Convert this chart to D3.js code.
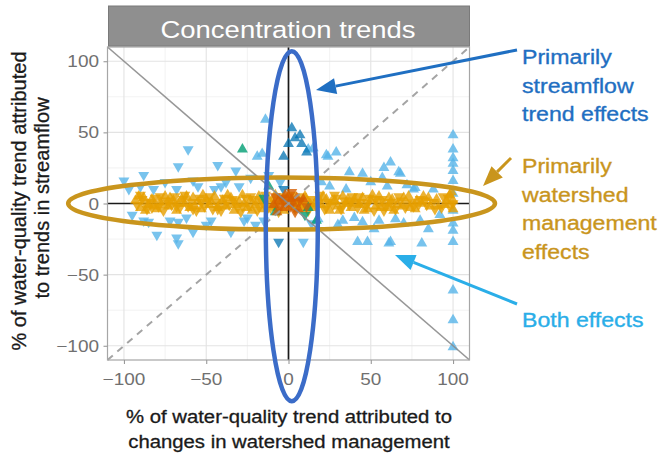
<!DOCTYPE html>
<html><head><meta charset="utf-8">
<script src="https://cdn.jsdelivr.net/npm/d3@7"></script>
<style>body{margin:0;background:#fff} svg{display:block}</style>
</head><body>
<script>
// ---- data (percent of concentration trend attributed to management vs streamflow) ----
const stripTitle = "Concentration trends";
const tickValues = [-100, -50, 0, 50, 100];
const minorTicks = [-75, -25, 25, 75];
const xTitle = ["% of water-quality trend attributed to", "changes in watershed management"];
const yTitle = ["% of water-quality trend attributed", "to trends in streamflow"];

// Both effects (sky blue)
const bothUp = [[100,48],[100,38],[100,32],[100,28],[100,23],[100,16],[100,7],[100,-5],[100,-14],[100,-19],[100,-27],[100,-61],[100,-82],[100,-101],
  [62,29],[67,22],[62,-27],[81,-28],[77,11],[42,-27],[48,-27],[61,-28],[15,39],[23,34],[29,36],[37,22],[45,21],[68,21],[76,10],
  [-16,35],[-14,59],[12,38],[24,33],[30,-15],[55,-12],[85,-18],[40,-10],[20,15],[50,15],[88,10],[35,10],[-19,33],[57,18],[70,-14],[92,-8],
  [25,12],[33,-12],[45,-13],[60,12],[65,-11],[72,13],[80,-12],[18,-11],[52,-18],[58,25]];
const bothDown = [[-100,16],[-88,20],[-82,10],[-67,26],[-61,38],[-58,16],[-45,10],[-43,27],[-68,-24],[-58,-20],[-67,-13],[-50,-15],
  [-68,10],[-41,12],[-32,23],[-23,18],[-47,-12],[-67,-28],[9,-27],[-20,-15],[-35,-20],[-80,-22],[-95,-8],[-30,12],[-12,20],[-5,15],[-27,-12],[14,-14],[-88,-12],
  [-90,12],[-75,15],[-72,-12],[-62,-10],[-55,12],[-38,15],[-25,-10],[-15,-12],[-85,-13],[-97,10]];
// Primarily watershed management (orange)
const mgmtUp = [[-93,2],[-90,-3],[-88,4],[-85,-1],[-83,3],[-80,-4],[-78,1],[-75,5],[-73,-2],[-70,2],[-68,-5],[-65,3],[-63,0],[-60,-3],[-58,4],[-55,1],[-53,-4],
  [-50,3],[-48,-1],[-45,5],[-43,-3],[-40,2],[-38,-2],[-35,4],[-33,-5],[-30,1],[-28,6],[-25,-3],[-23,2],[-20,-1],[-18,5],[-15,-4],[-12,3],[-10,-2],[-8,6],
  [-5,1],[-3,-5],[0,4],[3,-2],[5,2],[8,-4],[10,5],[13,0],[15,-3],[18,4],[20,-1],[23,3],[25,-5],[28,2],[30,-2],[33,5],[35,0],[38,-3],[40,3],[43,-1],[45,4],
  [48,-4],[50,2],[53,-2],[55,5],[58,0],[60,-3],[63,3],[66,-1],[70,4],[74,-3],[78,2],[82,5],[86,-2],[90,3],[95,-1],[98,6],[100,2],[100,-4],[99,8],
  [-91,5],[-87,-5],[-82,-2],[-77,-1],[-72,4],[-67,0],[-62,5],[-57,-2],[-52,6],[-47,1],[-42,-1],[-37,6],[-32,-1],[-27,0],[-22,-5],[-17,2],[-13,-1],[-7,-3],
  [-2,2],[1,0],[6,-1],[11,2],[16,0],[21,5],[26,1],[31,-5],[36,3],[41,0],[46,-5],[51,6],[56,-3],[61,4],[64,-5],[69,-2],[73,5],[77,-4],[81,0],[85,4],[91,-2],[96,2]];
const mgmtDown = [[-92,-1],[-89,3],[-86,-4],[-84,1],[-81,4],[-79,-2],[-76,-5],[-74,2],[-71,-1],[-69,5],[-66,-3],[-64,3],[-61,-2],[-59,1],[-56,-5],[-54,4],
  [-51,-2],[-49,2],[-46,-4],[-44,1],[-41,-5],[-39,4],[-36,-1],[-34,3],[-31,-3],[-29,-6],[-26,4],[-24,-2],[-21,3],[-19,-5],[-16,1],[-14,6],[-11,-3],[-9,2],
  [-6,-6],[-4,3],[-1,-2],[2,6],[4,-4],[7,1],[9,-1],[12,-5],[14,3],[17,-2],[19,6],[22,-4],[24,1],[27,-1],[29,4],[32,-4],[34,2],[37,-1],[39,5],[42,-3],
  [44,1],[47,-2],[49,4],[52,-5],[54,1],[57,3],[59,-2],[62,1],[65,-4],[68,2],[72,0],[76,-2],[80,3],[84,-1],[88,1],[93,-3],[97,4],[100,0],
  [-90,6],[-87,0],[-83,-3],[-78,5],[-73,0],[-68,-2],[-63,6],[-58,-4],[-53,1],[-48,5],[-43,-4],[-38,0],[-33,2],[-28,-2],[-23,5],[-18,-2],[-13,-4],[-8,0],
  [-3,5],[3,2],[8,5],[13,-2],[18,1],[23,-3],[28,6],[33,-1],[38,2],[43,5],[48,0],[53,3],[58,-5],[63,-1],[67,5],[71,-3],[75,1],[79,-1],[83,2],[89,-4],[94,5],[98,-2]];
// Near-zero attribution (vermillion)
const centerUp = [[-6,2],[-3,-3],[0,5],[3,0],[6,-4],[2,3],[-2,6],[5,4],[-9,-1],[9,3],[-7,-6]];
const centerDown = [[-5,-2],[-1,1],[4,-6],[7,2],[1,-2],[-4,4],[11,-2],[-8,5],[2,8]];
// Mixed (green)
const mixedUp = [[-28,38],[-12,12],[17,-12],[-8,-6],[12,-3]];
const mixedDown = [[-15,4],[10,-8]];
// Primarily streamflow (dark blue)
const flowUp = [[2,53],[7,48],[0,42],[8,42],[4,46],[11,36],[-3,33]];
const flowDown = [[-6,-27],[-3,10]];

// ---- layout ----
const W = 663, H = 453;
const panel = {left: 107.5, right: 469.5, top: 47, bottom: 360};
const x = d3.scaleLinear().domain([-110, 110]).range([panel.left, panel.right]);
const y = d3.scaleLinear().domain([-110, 110]).range([panel.bottom, panel.top]);
const FONT = "'Liberation Sans', Arial, Helvetica, sans-serif";

const svg = d3.select("body").append("svg").attr("width", W).attr("height", H);

function label(g, txt, px, py, size, sx, anchor, color, extra, heavy) {
  const t = g.append("text")
    .attr("transform", `translate(${px},${py}) scale(${sx},1)` + (extra || ""))
    .attr("text-anchor", anchor)
    .attr("font-family", FONT).attr("font-size", size)
    .attr("fill", color).text(txt);
  if (heavy) t.attr("stroke", color).attr("stroke-width", heavy);
  return t;
}

// panel background and grid
svg.append("rect").attr("x", panel.left).attr("y", panel.top)
  .attr("width", panel.right - panel.left).attr("height", panel.bottom - panel.top).attr("fill", "#fff");
const grid = svg.append("g");
minorTicks.forEach(v => {
  grid.append("line").attr("x1", x(v)).attr("x2", x(v)).attr("y1", panel.top).attr("y2", panel.bottom)
    .attr("stroke", "#efefef").attr("stroke-width", 0.8);
  grid.append("line").attr("y1", y(v)).attr("y2", y(v)).attr("x1", panel.left).attr("x2", panel.right)
    .attr("stroke", "#efefef").attr("stroke-width", 0.8);
});
tickValues.forEach(v => {
  grid.append("line").attr("x1", x(v)).attr("x2", x(v)).attr("y1", panel.top).attr("y2", panel.bottom)
    .attr("stroke", "#e3e3e3").attr("stroke-width", 1.1);
  grid.append("line").attr("y1", y(v)).attr("y2", y(v)).attr("x1", panel.left).attr("x2", panel.right)
    .attr("stroke", "#e3e3e3").attr("stroke-width", 1.1);
});

// zero reference lines
svg.append("line").attr("x1", panel.left).attr("x2", panel.right).attr("y1", y(0)).attr("y2", y(0))
  .attr("stroke", "#1a1a1a").attr("stroke-width", 1.7);
svg.append("line").attr("x1", x(0)).attr("x2", x(0)).attr("y1", panel.top).attr("y2", panel.bottom)
  .attr("stroke", "#1a1a1a").attr("stroke-width", 1.7);

// points
const tri = d3.symbol().type(d3.symbolTriangle).size(52);
function drawPts(data, color, down, op) {
  svg.append("g").selectAll("path").data(data).join("path")
    .attr("d", tri)
    .attr("transform", d => `translate(${x(d[0])},${y(d[1])})` + (down ? " rotate(180)" : ""))
    .attr("fill", color).attr("fill-opacity", op);
}
drawPts(bothUp, "#56B4E9", false, 0.8);
drawPts(bothDown, "#56B4E9", true, 0.8);
drawPts(flowUp, "#0072B2", false, 0.75);
drawPts(flowDown, "#0072B2", true, 0.75);
drawPts(mgmtUp, "#E69F00", false, 0.8);
drawPts(mgmtDown, "#E69F00", true, 0.8);
drawPts(mixedUp, "#009E73", false, 0.8);
drawPts(mixedDown, "#009E73", true, 0.8);
drawPts(centerUp, "#D55E00", false, 0.8);
drawPts(centerDown, "#D55E00", true, 0.8);

// 1:1 and 1:-1 guide lines
svg.append("line").attr("x1", x(-110)).attr("y1", y(110)).attr("x2", x(110)).attr("y2", y(-110))
  .attr("stroke", "#8c8c8c").attr("stroke-width", 1.6).attr("stroke-opacity", 0.9);
svg.append("line").attr("x1", x(-110)).attr("y1", y(-110)).attr("x2", x(110)).attr("y2", y(110))
  .attr("stroke", "#9a9a9a").attr("stroke-width", 2).attr("stroke-dasharray", "7,6").attr("stroke-opacity", 0.9);

// panel border
svg.append("rect").attr("x", panel.left).attr("y", panel.top)
  .attr("width", panel.right - panel.left).attr("height", panel.bottom - panel.top)
  .attr("fill", "none").attr("stroke", "#a6a6a6").attr("stroke-width", 1.2);

// axes
const xAxis = svg.append("g").attr("transform", `translate(0,${panel.bottom})`)
  .call(d3.axisBottom(x).tickValues(tickValues).tickSize(4).tickFormat(() => ""));
const yAxis = svg.append("g").attr("transform", `translate(${panel.left},0)`)
  .call(d3.axisLeft(y).tickValues(tickValues).tickSize(4).tickFormat(() => ""));
[xAxis, yAxis].forEach(a => { a.select(".domain").remove(); a.selectAll("line").attr("stroke", "#999").attr("stroke-width", 1.1); });
const fmt = v => (v < 0 ? "\u2212" + Math.abs(v) : String(v));
tickValues.forEach(v => {
  label(svg, fmt(v), x(v), 385, 16.5, 1.15, "middle", "#707070");
  label(svg, fmt(v), 99, y(v) + 6, 16.5, 1.15, "end", "#707070");
});

// axis titles
label(svg, xTitle[0], 289, 423, 17.5, 1.16, "middle", "#1a1a1a", "", 0.3);
label(svg, xTitle[1], 289, 448, 17.5, 1.16, "middle", "#1a1a1a", "", 0.3);
label(svg, yTitle[0], 26, 201, 20, 1, "middle", "#1a1a1a", " rotate(-90)", 0.3);
label(svg, yTitle[1], 49, 198, 20, 1, "middle", "#1a1a1a", " rotate(-90)", 0.3);

// facet strip
svg.append("rect").attr("x", 108.5).attr("y", 6).attr("width", 361).attr("height", 40)
  .attr("fill", "#8f8f8f").attr("stroke", "#7a7a7a").attr("stroke-width", 1);
label(svg, stripTitle, 288, 38, 23.5, 1.17, "middle", "#ffffff");

// highlight ellipses
svg.append("ellipse").attr("cx", x(-4.2)).attr("cy", y(0))
  .attr("rx", x(129.7) - x(0)).attr("ry", y(0) - y(18.3))
  .attr("fill", "none").attr("stroke", "#c9951d").attr("stroke-width", 4.5);
svg.append("ellipse").attr("cx", x(2)).attr("cy", y(-16))
  .attr("rx", x(15.8) - x(0)).attr("ry", y(0) - y(123))
  .attr("fill", "none").attr("stroke", "#3b6cc8").attr("stroke-width", 4.5);

// callout arrows
function arrow(x1, y1, x2, y2, color) {
  const a = Math.atan2(y2 - y1, x2 - x1), L = 20, Wd = 8;
  const bx = x2 - L * Math.cos(a), by = y2 - L * Math.sin(a);
  svg.append("line").attr("x1", x1).attr("y1", y1).attr("x2", bx).attr("y2", by)
    .attr("stroke", color).attr("stroke-width", 3);
  const pts = [[x2, y2], [bx + Wd * Math.sin(a), by - Wd * Math.cos(a)], [bx - Wd * Math.sin(a), by + Wd * Math.cos(a)]];
  svg.append("polygon").attr("points", pts.map(p => p.join(",")).join(" ")).attr("fill", color);
}
arrow(517, 50, 316, 90, "#1f6fc2");
arrow(511, 158, 483, 186, "#c9951d");
arrow(517, 304, 395, 255, "#2aaee8");

// callout labels
const flowLbl = ["Primarily", "streamflow", "trend effects"];
const mgmtLbl = ["Primarily", "watershed", "management", "effects"];
flowLbl.forEach((t, i) => label(svg, t, 522, 64 + i * 28.5, 21, 1.1, "start", "#1f6fc2", "", 0.35));
mgmtLbl.forEach((t, i) => label(svg, t, 522, 173 + i * 28.5, 21, 1.1, "start", "#c9951d", "", 0.35));
label(svg, "Both effects", 522, 327, 21, 1.1, "start", "#2aaee8", "", 0.35);
</script>
</body></html>
